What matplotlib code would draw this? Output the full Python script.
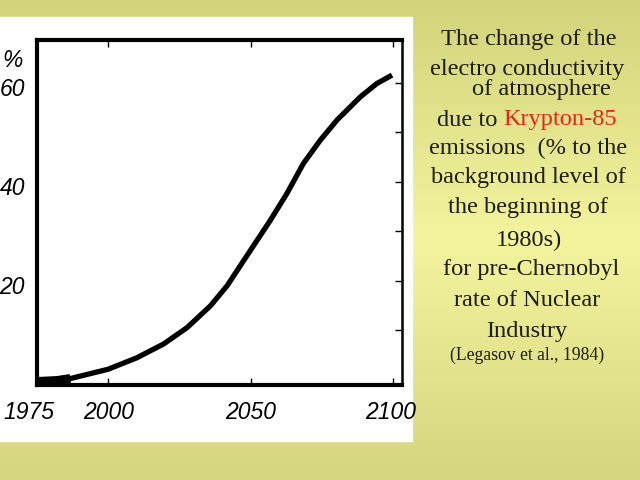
import numpy as np
import matplotlib.pyplot as plt
from matplotlib.colors import LinearSegmentedColormap

# Data (Legasov et al., 1984)
years = [1975, 1982, 1986.7, 2000, 2010, 2019.4, 2027.6, 2035.8, 2041.7, 2047.4,
         2056.8, 2062.6, 2068.4, 2074.3, 2080.2, 2088.4, 2094.2, 2099.5]
change = [-0.4, -0.2, 0.2, 2.1, 4.4, 7.2, 10.5, 14.9, 19.0, 24.0,
          32.2, 37.6, 43.7, 48.4, 52.5, 57.2, 59.9, 61.6]

x_ticks = [2000, 2050, 2100]
x_labels = ["1975", "2000", "2050", "2100"]
x_label_pos = [1972, 2000, 2050, 2099]
y_labels = ["20", "40", "60"]
y_label_pos = [20, 40, 60]

text_lines = [
    "The change of the",
    "electro conductivity",
    "of atmosphere",
    None,  # "due to Krypton-85" drawn in two colours
    "emissions  (% to the",
    "background level of",
    "the beginning of",
    "1980s)",
    "for pre-Chernobyl",
    "rate of Nuclear",
    "Industry",
]
line_y = [40, 69, 90, 120, 148, 177, 208, 240, 270, 300, 332]
line_x = [529, 527, 541, 527, 528, 528, 528, 529, 531, 527, 527]

fig = plt.figure(figsize=(6.4, 4.8), dpi=100)

# Slide background: olive -> light yellow -> olive
bg = fig.add_axes([0, 0, 1, 1])
cmap = LinearSegmentedColormap.from_list(
    "slide", ["#d3d37c", "#f4f49e", "#d5d580"])
grad = np.concatenate([np.linspace(0, 0.5, 240), np.linspace(0.5, 1, 240)])
bg.imshow(grad[:, None], aspect="auto", cmap=cmap, vmin=0, vmax=1,
          extent=[0, 640, 480, 0])
bg.add_patch(plt.Rectangle((0, 17), 412, 424, color="white", zorder=2))
bg.set_xlim(0, 640)
bg.set_ylim(480, 0)
bg.axis("off")

# Right-hand caption
serif = "Liberation Serif"
fs = 17.6
for txt, x, y in zip(text_lines, line_x, line_y):
    if txt is None:
        continue
    bg.text(x, y, txt, ha="center", va="center", fontsize=fs,
            family=serif, color="#1c1c10", zorder=3)
t1 = bg.text(437, 120, "due to ", ha="left", va="center", fontsize=fs,
             family=serif, color="#1c1c10", zorder=3)
fig.canvas.draw()
bb = t1.get_window_extent()
bg.text(437 + bb.width, 120, "Krypton-85", ha="left", va="center",
        fontsize=fs, family=serif, color="#e0281a", zorder=3)
bg.text(527, 355, "(Legasov et al., 1984)", ha="center", va="center",
        fontsize=12.7, family=serif, color="#1c1c10", zorder=3)

# Chart
ax = fig.add_axes([37 / 640, 95 / 480, 365 / 640, 345 / 480])
ax.set_facecolor("none")
ax.plot(years, change, color="black", lw=3.8, solid_capstyle="butt",
        solid_joinstyle="round")
ax.plot(years[:3], change[:3], color="black", lw=6.5, solid_capstyle="butt")
ax.set_xlim(1975, 2103)
ax.set_ylim(-1.1, 68.7)

for side in ["top", "left", "bottom"]:
    ax.spines[side].set_linewidth(3)
ax.spines["right"].set_linewidth(1.8)

ax.set_xticks(x_ticks)
ax.set_yticks([10, 20, 30, 40, 50, 60])
ax.tick_params(axis="x", direction="in", length=5, width=1, top=True,
               labelbottom=False)
ax.tick_params(axis="y", direction="in", length=5, width=1, left=False,
               right=True, labelleft=False)

num_font = ["Liberation Sans", "DejaVu Sans"]
for lab, xv in zip(x_labels, x_label_pos):
    ax.text(xv, -0.08, lab, transform=ax.get_xaxis_transform(),
            ha="center", va="center", fontsize=16.5, style="italic",
            family=num_font)
for lab, yv in zip(y_labels, y_label_pos):
    ax.text(-0.033, yv - 1.4, lab, transform=ax.get_yaxis_transform(),
            ha="right", va="center", fontsize=16.5, style="italic",
            family=num_font)
ax.text(-0.04, 64.5, "%", transform=ax.get_yaxis_transform(),
        ha="right", va="center", fontsize=16.5, style="italic", family=num_font)

fig.savefig("out.png", dpi=100)
